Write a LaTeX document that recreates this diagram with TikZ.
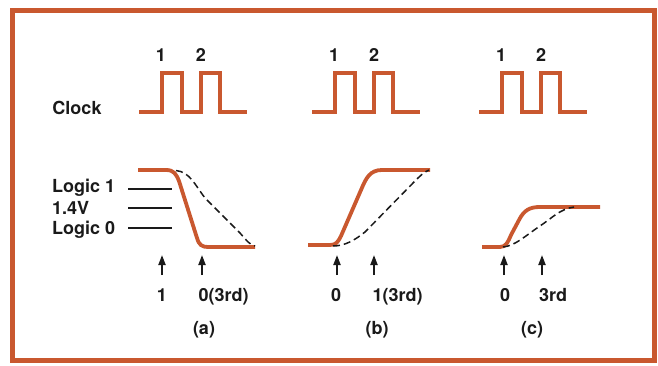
\documentclass[tikz,border=0pt]{standalone}
\usepackage{fontspec}
\setmainfont{TeX Gyre Heros}
\usetikzlibrary{arrows.meta,positioning}
\definecolor{wfOrange}{HTML}{C9582F}
\definecolor{wfInk}{HTML}{1A1A1A}
\tikzset{
  lbl/.style={font=\fontsize{18}{21}\selectfont\bfseries, text=wfInk, inner sep=0pt},
  frame/.style={draw=wfOrange, line width=5pt},
  clk/.style={draw=wfOrange, line width=3.8pt},
  wave/.style={draw=wfOrange, line width=3.8pt},
  trace/.style={draw=wfInk, line width=1.5pt, dash pattern=on 7pt off 4pt},
  thresh/.style={draw=wfInk, line width=1.6pt},
  probe/.style={-{Triangle[length=10pt,width=7pt]}, draw=wfInk, line width=2pt}
}

\begin{document}
\begin{tikzpicture}[x=1pt,y=-1pt]
  \useasboundingbox (0,0) rectangle (658,366);
  \draw[frame] (12,11) rectangle (654,360);

  \node[lbl] (clock) at (77,108) {Clock};
  \foreach \dx/\n in {0/a,173/b,340/c}{
    \begin{scope}[xshift=\dx pt]
      \draw[clk] (139,112) -- (162,112) -- (162,73) -- (182,73) -- (182,112)
        -- (201,112) -- (201,73) -- (220,73) -- (220,112) -- (247,112);
      \node[lbl, anchor=base] (one\n) at (161,61.5) {1};
      \node[lbl, anchor=base] (two\n) at (201,61.5) {2};
    \end{scope}
  }

  \node[lbl, anchor=base west] (hi) at (52,192.5) {Logic 1};
  \node[lbl, anchor=base west] (mid) at (52,214.5) {1.4V};
  \node[lbl, anchor=base west] (lo) at (52,234.5) {Logic 0};
  \coordinate (hiend) at (172,189);
  \coordinate (midend) at (172,208);
  \coordinate (loend) at (172,228);
  \draw[thresh] (128,189) -- (hiend);
  \draw[thresh] (128,208) -- (midend);
  \draw[thresh] (128,228) -- (loend);

  \draw[wave] (138,170) -- (166,170) .. controls (174,170) and (176,174) .. (179,181)
    -- (197,238) .. controls (199,245) and (202,247) .. (208,247) -- (255,247);
  \draw[trace] (176,170.5) .. controls (190,172) and (195,185) .. (205,198)
    -- (240,233) .. controls (247,241) and (250,245) .. (255,246);

  \draw[wave] (308,245) -- (330,245) .. controls (336,245) and (338,242) .. (341,236)
    -- (361,190) .. controls (366,178) and (370,170) .. (382,170) -- (430,170);
  \draw[trace] (333,246) .. controls (345,246) and (355,240) .. (365,232)
    -- (415,181) .. controls (420,176) and (424,172) .. (429,170);

  \draw[wave] (482,247) -- (500,247) .. controls (506,247) and (508,242) .. (511,235)
    -- (519,220) .. controls (524,210) and (530,207) .. (540,207) -- (600,207);
  \draw[trace] (503,247) .. controls (515,246) and (525,236) .. (540,226)
    .. controls (552,218) and (560,209) .. (574,207);

  \foreach \x/\n in {162/a1,202/a2,337/b1,374/b2,504/c1,542/c2}{
    \coordinate (\n t) at (\x,275);
    \coordinate (\n h) at (\x,255);
    \draw[probe] (\n t) -- (\n h);
  }

  \node[lbl, anchor=base] (va1) at (162,301.5) {1};
  \node[lbl, anchor=base] (va2) at (223.5,301.5) {0(3rd)};
  \node[lbl, anchor=base] (vb1) at (336,301.5) {0};
  \node[lbl, anchor=base] (vb2) at (397.5,301.5) {1(3rd)};
  \node[lbl, anchor=base] (vc1) at (505,301.5) {0};
  \node[lbl, anchor=base] (vc2) at (553,301.5) {3rd};

  \node[lbl, anchor=base] (capa) at (204,334) {(a)};
  \node[lbl, anchor=base] (capb) at (377,334) {(b)};
  \node[lbl, anchor=base] (capc) at (532,334) {(c)};
\end{tikzpicture}
\end{document}
